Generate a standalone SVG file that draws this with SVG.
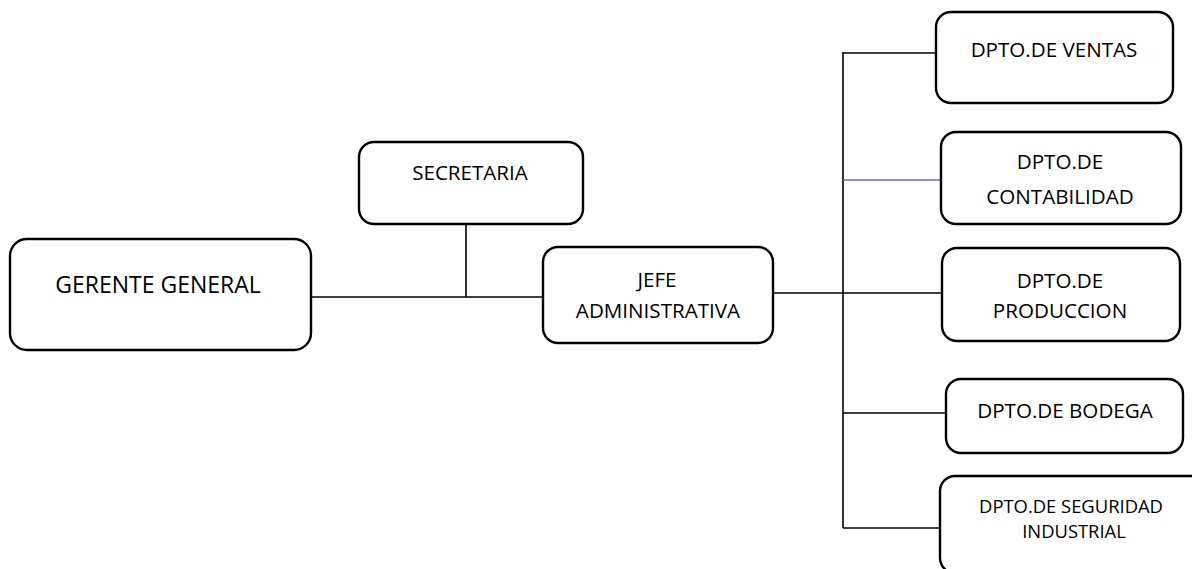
<svg xmlns="http://www.w3.org/2000/svg" width="1192" height="569" viewBox="0 0 1192 569">
  <style>
    .box { fill: #ffffff; stroke: #000000; stroke-width: 2.4; }
    .ln { stroke: #000000; stroke-width: 1.6; fill: none; }
    .purple { stroke: #8064a2; stroke-width: 1.6; fill: none; }
    text { font-family: "Open Sans", "Liberation Sans", sans-serif; fill: #000000; text-anchor: middle; }
    .t20 { font-size: 20.6px; }
    .t23 { font-size: 23px; }
    .t18 { font-size: 18.4px; }
  </style>
  <rect width="1192" height="569" fill="#ffffff"/>
  <g id="connectors">
    <line class="ln" x1="311" y1="297" x2="543" y2="297"/>
    <line class="ln" x1="466" y1="219" x2="466" y2="297"/>
    <line class="ln" x1="772" y1="293" x2="942" y2="293"/>
    <line class="ln" x1="843" y1="52" x2="843" y2="528"/>
    <line class="ln" x1="843" y1="53" x2="940" y2="53"/>
    <line class="purple" x1="843" y1="180" x2="941" y2="180"/>
    <line class="ln" x1="843" y1="413" x2="946" y2="413"/>
    <line class="ln" x1="843" y1="528" x2="940" y2="528"/>
  </g>
  <g id="gerente">
    <rect class="box" x="10" y="239" width="301" height="111" rx="17"/>
    <text class="t23" x="158" y="293">GERENTE GENERAL</text>
  </g>
  <g id="secretaria">
    <rect class="box" x="359" y="142" width="224" height="82" rx="15"/>
    <text class="t20" x="470" y="180">SECRETARIA</text>
  </g>
  <g id="jefe">
    <rect class="box" x="543" y="247" width="230" height="96" rx="15"/>
    <text class="t20" x="657" y="287">JEFE</text>
    <text class="t20" x="658" y="318">ADMINISTRATIVA</text>
  </g>
  <g id="ventas">
    <rect class="box" x="936" y="12" width="237" height="91" rx="15"/>
    <text class="t20" x="1054" y="57">DPTO.DE VENTAS</text>
  </g>
  <g id="contabilidad">
    <rect class="box" x="941" y="132" width="240" height="92" rx="15"/>
    <text class="t20" x="1060" y="169">DPTO.DE</text>
    <text class="t20" x="1060" y="204">CONTABILIDAD</text>
  </g>
  <g id="produccion">
    <rect class="box" x="942" y="248" width="238" height="93" rx="15"/>
    <text class="t20" x="1060" y="288">DPTO.DE</text>
    <text class="t20" x="1060" y="318">PRODUCCION</text>
  </g>
  <g id="bodega">
    <rect class="box" x="946" y="379" width="237" height="74" rx="15"/>
    <text class="t20" x="1065" y="418">DPTO.DE BODEGA</text>
  </g>
  <g id="seguridad">
    <rect class="box" x="940" y="476" width="270" height="97" rx="15"/>
    <text class="t18" x="1071" y="513">DPTO.DE SEGURIDAD</text>
    <text class="t18" x="1074" y="538">INDUSTRIAL</text>
  </g>
</svg>
